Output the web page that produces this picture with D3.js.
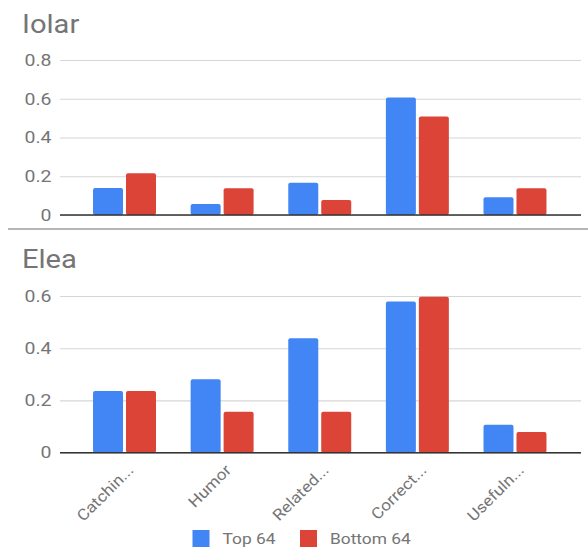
<!DOCTYPE html>
<html><head><meta charset="utf-8">
<script src="https://cdn.jsdelivr.net/npm/d3@7"></script>
<style>body{margin:0;background:#fff}svg{display:block;font-family:Roboto,Arial,sans-serif}</style>
</head><body>
<script>
const categories = ["Catchin...", "Humor", "Related...", "Correct...", "Usefuln..."];
const seriesNames = ["Top 64", "Bottom 64"];
const colors = ["#4285F4", "#DB4437"];
const iolarTop = [0.14, 0.057, 0.167, 0.607, 0.091];
const iolarBottom = [0.215, 0.138, 0.077, 0.509, 0.138];
const eleaTop = [0.236, 0.281, 0.438, 0.579, 0.107];
const eleaBottom = [0.236, 0.157, 0.157, 0.597, 0.079];
const iolarTicks = [0, 0.2, 0.4, 0.6, 0.8];
const eleaTicks = [0, 0.2, 0.4, 0.6];

const W = 588, H = 547;
const SX = 1.12;
const svg = d3.select("body").append("svg").attr("width", W).attr("height", H);

const x0 = d3.scaleBand().domain(categories).range([75.7, 563.8]).paddingInner(0.355).paddingOuter(0.1775);
const x1 = d3.scaleBand().domain(seriesNames).range([0, x0.bandwidth()]).paddingInner(0.09);

function panel(title, titleY, top, bottom, ticks, yMax, y0, y1) {
  const y = d3.scaleLinear().domain([0, yMax]).range([y0, y1]);
  const g = svg.append("g");
  g.append("text").attr("transform", `translate(22,${titleY}) scale(${SX},1)`)
    .attr("font-size", 26).attr("fill", "#757575").text(title);
  const ax = g.append("g").attr("transform", "translate(60,0)")
    .call(d3.axisLeft(y).tickValues(ticks).tickSize(-521).tickFormat(d => d === 0 ? "0" : d3.format(".1f")(d)));
  ax.select(".domain").remove();
  ax.selectAll(".tick line").attr("stroke", "#d6d6d6").attr("stroke-width", 1.2);
  ax.selectAll(".tick text").attr("x", 0).attr("transform", `translate(-8.5,0) scale(1.18,1)`)
    .attr("fill", "#757575").attr("font-size", 16.5).attr("font-family", "Roboto, Arial, sans-serif");
  const data = categories.map((c, i) => ({c, vals: [top[i], bottom[i]]}));
  const grp = g.selectAll(".grp").data(data).join("g").attr("transform", d => `translate(${x0(d.c)},0)`);
  grp.selectAll("rect").data(d => d.vals.map((v, j) => ({v, s: seriesNames[j], j})))
    .join("rect")
    .attr("x", d => x1(d.s)).attr("width", x1.bandwidth())
    .attr("y", d => y(d.v)).attr("height", d => y(0) - y(d.v))
    .attr("rx", 2).attr("fill", d => colors[d.j]);
  g.append("line").attr("x1", 60).attr("x2", 581).attr("y1", y(0)).attr("y2", y(0))
    .attr("stroke", "#333").attr("stroke-width", 1.5);
  return y;
}

panel("Iolar", 33, iolarTop, iolarBottom, iolarTicks, 0.8, 215, 60);
svg.append("line").attr("x1", 8).attr("x2", 588).attr("y1", 229).attr("y2", 229).attr("stroke", "#9e9e9e").attr("stroke-width", 1.5);
panel("Elea", 268, eleaTop, eleaBottom, eleaTicks, 0.6, 452.7, 296);

// category labels
svg.append("g").selectAll("text").data(categories).join("text")
  .attr("transform", d => `translate(${x0(d) + x0.bandwidth()/2 + 10},471) rotate(-45) scale(${SX},1)`)
  .attr("text-anchor", "end").attr("font-size", 15.5).attr("fill", "#757575").text(d => d);

// legend
const leg = svg.append("g");
const legX = [192.5, 300];
seriesNames.forEach((s, i) => {
  leg.append("rect").attr("x", legX[i]).attr("y", 530).attr("width", 17).attr("height", 17).attr("fill", colors[i]);
  leg.append("text").attr("transform", `translate(${legX[i] + 30},544) scale(${SX},1)`)
    .attr("font-size", 15.5).attr("fill", "#757575").text(s);
});
</script>
</body></html>
